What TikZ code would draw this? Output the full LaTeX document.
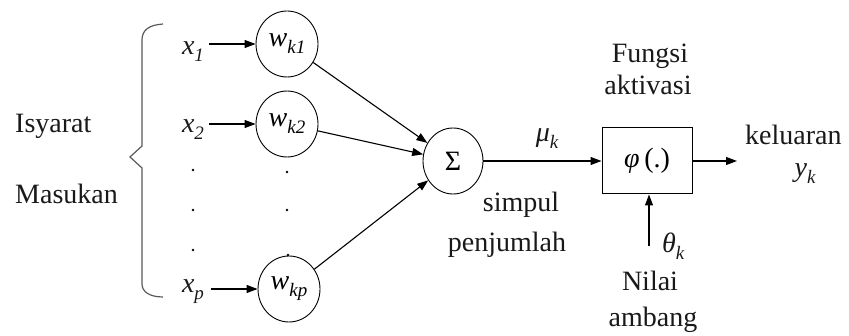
\documentclass[tikz,border=0pt]{standalone}
\usepackage{fontspec}
\setmainfont{Liberation Serif}
\usetikzlibrary{arrows.meta,shapes.geometric}
\newcommand{\sbs}[1]{\raisebox{-0.25em}{\fontsize{19}{19}\selectfont\itshape #1}}
\begin{document}
\begin{tikzpicture}[x=1pt,y=-1pt,
  txt/.style={font=\fontsize{28}{30}\selectfont, inner sep=0pt, text=black!90},
  wnode/.style={ellipse, draw, line width=0.9pt, minimum width=62pt, minimum height=66pt, inner sep=0pt, font=\fontsize{28}{30}\selectfont},
  boxnode/.style={rectangle, draw, line width=1pt, minimum width=90pt, minimum height=66pt, inner sep=0pt, font=\fontsize{28}{30}\selectfont},
  arr/.style={-{Triangle[length=11pt,width=8pt]}, line width=1.1pt},
  bracepath/.style={line width=1.2pt, draw=black!65},
  dotmark/.style={circle, fill=black, inner sep=0pt, minimum size=2.6pt}]
\useasboundingbox (0,0) rectangle (849,336);

% left labels
\node[txt, anchor=base west] (isy) at (15,133) {Isyarat};
\node[txt, anchor=base west] (mas) at (15,204) {Masukan};

% brace
\draw[bracepath] (163,24) .. controls (149,25) and (142,30) .. (142,40) -- (142,146) -- (130,157) -- (142,168) -- (142,284) .. controls (142,292) and (150,297) .. (163,297);

% inputs
\node[txt, anchor=base] (x1) at (193,55) {\itshape x\sbs{1}};
\node[txt, anchor=base] (x2) at (193,133) {\itshape x\sbs{2}};
\node[txt, anchor=base] (xp) at (193,293) {\itshape x\sbs{p}};

% weights
\node[wnode] (w1) at (287,44) {\itshape w\sbs{k1}};
\node[wnode] (w2) at (287,124) {\itshape w\sbs{k2}};
\node[wnode] (wp) at (289,289) {\itshape w\sbs{kp}};

% dots
\node[dotmark] (d1) at (193,170) {};
\node[dotmark] (d2) at (193,210) {};
\node[dotmark] (d3) at (193,250) {};
\node[dotmark] (d4) at (287,172) {};
\node[dotmark] (d5) at (287,210) {};
\node[dotmark] (d6) at (288,255) {};

\draw[arr] ([xshift=5pt]x1.east |- w1) -- (w1);
\draw[arr] ([xshift=5pt]x2.east |- w2) -- (w2);
\draw[arr] ([xshift=7pt]xp.east |- wp) -- (wp);

% summation
\node[wnode, minimum width=60pt, minimum height=66pt] (sig) at (453,161) {Σ};
\draw[arr] (w1) -- (sig);
\draw[arr] (w2) -- (sig);
\draw[arr] (wp) -- (sig);

\node[txt, anchor=base] (mu) at (547,142) {\itshape μ\sbs{k}};
\node[txt, anchor=base] (simpul) at (521,212) {simpul};
\node[txt, anchor=base] (penj) at (507,252) {penjumlah};

% activation
\node[boxnode] (box) at (647,161) {{\itshape φ}\,(.)};
\draw[arr] (sig) -- (box);
\node[txt, anchor=base] (fung) at (650,63) {Fungsi};
\node[txt, anchor=base] (akt) at (648,95) {aktivasi};

\coordinate (out) at (737,161);
\draw[arr] (box) -- (out);
\node[txt, anchor=base west] (kel) at (745,145) {keluaran};
\node[txt, anchor=base] (yk) at (805,177) {\itshape y\sbs{k}};

\coordinate (th) at (649,246);
\draw[arr] (th) -- (th |- box.south);
\node[txt, anchor=base west] (theta) at (662,253) {\itshape θ\sbs{k}};
\node[txt, anchor=base] (nilai) at (650,291) {Nilai};
\node[txt, anchor=base] (amb) at (653,327) {ambang};
\end{tikzpicture}
\end{document}
